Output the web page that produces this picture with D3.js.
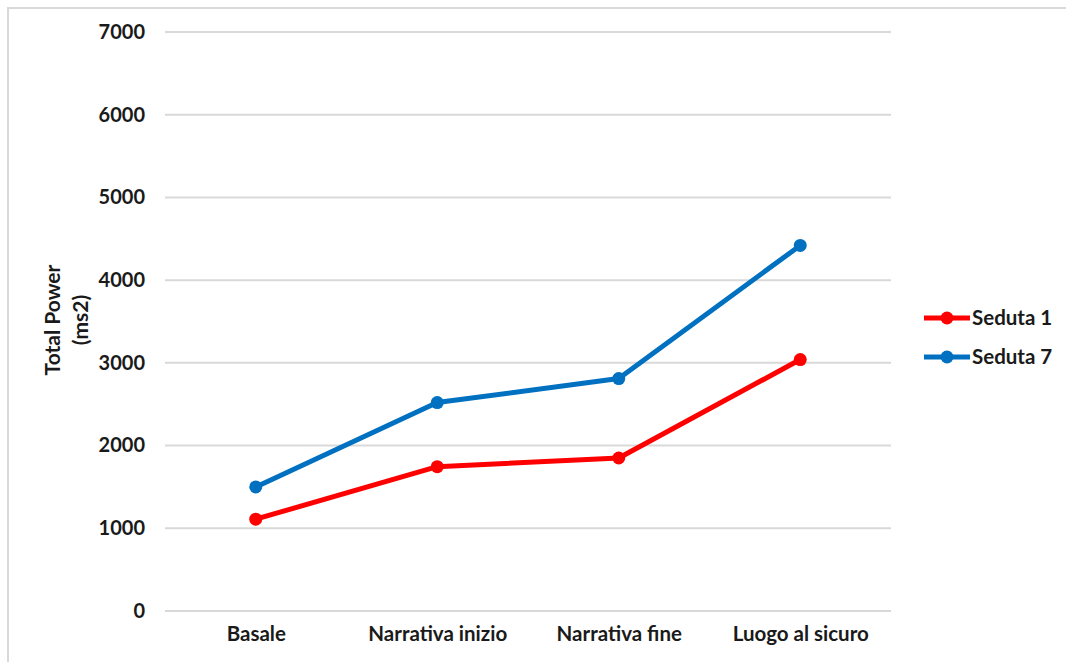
<!DOCTYPE html>
<html>
<head>
<meta charset="utf-8">
<script src="https://cdn.jsdelivr.net/npm/d3@7"></script>
<style>
  html, body { margin: 0; padding: 0; background: #fff; }
  svg { display: block; }
  text { font-family: Lato, "Open Sans", sans-serif; font-weight: bold; fill: #1a1a1a; }
</style>
</head>
<body>
<svg id="chart" width="1066" height="662"></svg>
<script>
// Session phases on the x axis
const categories = ["Basale", "Narrativa inizio", "Narrativa fine", "Luogo al sicuro"];
// Total Power (ms2) per phase
const seduta1 = [1110, 1745, 1850, 3040];
const seduta7 = [1500, 2520, 2810, 4420];
const seriesNames = ["Seduta 1", "Seduta 7"];
const seriesColors = ["#ff0000", "#0070c0"];
const yTicks = [0, 1000, 2000, 3000, 4000, 5000, 6000, 7000];

const series = [
  { name: seriesNames[0], color: seriesColors[0], values: seduta1 },
  { name: seriesNames[1], color: seriesColors[1], values: seduta7 }
];

const svg = d3.select("#chart");

// Chart frame
svg.append("rect")
  .attr("x", 8).attr("y", 8)
  .attr("width", 1070).attr("height", 670)
  .attr("fill", "none")
  .attr("stroke", "#d9d9d9")
  .attr("stroke-width", 2);

const plot = { left: 165, right: 891, top: 32, bottom: 611 };

const x = d3.scalePoint()
  .domain(categories)
  .range([plot.left, plot.right])
  .padding(0.5);

const y = d3.scaleLinear()
  .domain([0, 7000])
  .range([plot.bottom, plot.top]);

// Horizontal gridlines
svg.append("g")
  .selectAll("line")
  .data(yTicks)
  .join("line")
  .attr("x1", plot.left).attr("x2", plot.right)
  .attr("y1", d => y(d)).attr("y2", d => y(d))
  .attr("stroke", "#d9d9d9")
  .attr("stroke-width", 2);

// Y axis labels
const yAxis = d3.axisLeft(y).tickValues(yTicks).tickSize(0).tickPadding(0).tickFormat(d3.format("d"));
svg.append("g")
  .attr("transform", `translate(${plot.left - 20},0)`)
  .call(yAxis)
  .call(g => g.select(".domain").remove())
  .call(g => g.selectAll("text")
    .attr("font-size", 20)
    .attr("font-family", null)
    .attr("fill", "#1a1a1a"));

// X axis labels
const xAxis = d3.axisBottom(x).tickSize(0).tickPadding(0);
svg.append("g")
  .attr("transform", `translate(0,${plot.bottom + 15})`)
  .call(xAxis)
  .call(g => g.select(".domain").remove())
  .call(g => g.selectAll("text")
    .attr("font-size", 20.5)
    .attr("font-family", null)
    .attr("fill", "#1a1a1a"));

// Y axis title
const yTitle = svg.append("text")
  .attr("transform", "translate(65,320) rotate(-90)")
  .attr("text-anchor", "middle")
  .attr("dominant-baseline", "central")
  .attr("font-size", 21);
yTitle.append("tspan").attr("x", 0).attr("dy", -14).text("Total Power");
yTitle.append("tspan").attr("x", 0).attr("dy", 28).text("(ms2)");

// Lines and markers
const line = d3.line()
  .x((d, i) => x(categories[i]))
  .y(d => y(d));

const sg = svg.append("g")
  .selectAll("g")
  .data(series)
  .join("g");

sg.append("path")
  .attr("d", d => line(d.values))
  .attr("fill", "none")
  .attr("stroke", d => d.color)
  .attr("stroke-width", 5)
  .attr("stroke-linejoin", "round")
  .attr("stroke-linecap", "round");

sg.selectAll("circle")
  .data(d => d.values.map((v, i) => ({ v, i, color: d.color })))
  .join("circle")
  .attr("cx", d => x(categories[d.i]))
  .attr("cy", d => y(d.v))
  .attr("r", 6.5)
  .attr("fill", d => d.color);

// Legend
const legend = svg.append("g")
  .selectAll("g")
  .data(series)
  .join("g")
  .attr("transform", (d, i) => `translate(924,${318 + i 
* 39})`);

legend.append("line")
  .attr("x1", 0).attr("x2", 46)
  .attr("stroke", d => d.color)
  .attr("stroke-width", 5);
legend.append("circle")
  .attr("cx", 23).attr("r", 6.5)
  .attr("fill", d => d.color);
legend.append("text")
  .attr("x", 48)
  .attr("dy", "0.36em")
  .attr("font-size", 20.5)
  .text(d => d.name);
</script>
</body>
</html>
